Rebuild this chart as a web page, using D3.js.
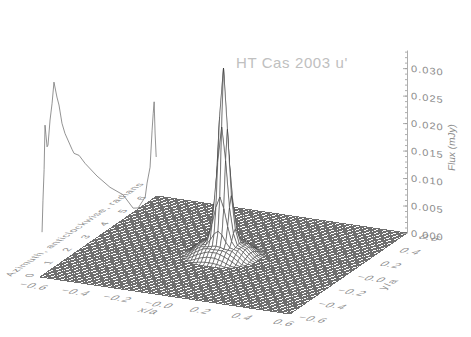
<!DOCTYPE html>
<html>
<head>
<meta charset="utf-8">
<script src="https://cdn.jsdelivr.net/npm/d3@7"></script>
<style>
  body { margin: 0; background: #fff; }
  text { font-family: "Liberation Sans", sans-serif; fill: #8c8c8c; }
</style>
</head>
<body>
<div id="container"></div>
<script>
const WIDTH = 471;
const HEIGHT = 337;

// azimuth profile on the back wall: radians, mJy
const azimuth = [0.11, 0.16, 0.22, 0.27, 0.32, 0.38, 0.43, 0.54, 0.65, 0.75, 0.91, 1.02, 1.18, 1.34, 1.72, 1.83, 2.1, 2.42, 3.06, 3.76, 4.46, 5.0, 5.27, 5.65, 5.75, 5.91, 6.02, 6.08, 6.13, 6.18, 6.24];
const profileFlux = [0.0079, 0.0136, 0.019, 0.027, 0.0251, 0.0228, 0.023, 0.0273, 0.0301, 0.0337, 0.0306, 0.0289, 0.0252, 0.023, 0.0192, 0.0182, 0.0172, 0.015, 0.0112, 0.0075, 0.0045, 0.0008, 0.0002, 0.0013, 0.0036, 0.0061, 0.0126, 0.0155, 0.0175, 0.0117, 0.0072];

const xTicks = [-0.6, -0.4, -0.2, 0, 0.2, 0.4, 0.6];
const yTicks = [-0.6, -0.4, -0.2, 0, 0.2, 0.4, 0.6];
const azimuthTicks = [0, 1, 2, 3, 4, 5, 6];
const fluxTicks = [0, 0.005, 0.01, 0.015, 0.02, 0.025, 0.03];
const fluxMinorTicks = d3.range(0, 0.0335, 0.001);

// surface heights around the centre, in 1e-4 mJy, front row first; the rest of the map is 0
const GRID_CELLS = 64;
const centreHeights = [
  [0,0,0,0,0,2,3,4,4,4,3,2,0,0,0,0,0],
  [0,0,0,1,4,7,9,11,11,11,9,7,4,1,0,0,0],
  [0,0,2,6,10,13,16,18,18,18,16,13,10,6,2,0,0],
  [0,1,6,11,15,19,21,21,21,21,21,19,15,11,6,1,0],
  [0,4,10,15,20,21,22,24,25,24,22,21,20,15,10,4,0],
  [2,7,13,19,21,23,32,44,50,44,32,23,21,19,13,7,2],
  [3,9,16,21,22,32,58,90,110,90,58,32,22,21,16,9,3],
  [4,11,18,21,24,44,90,170,235,175,90,44,24,21,18,11,4],
  [4,11,18,21,25,50,110,250,340,230,110,50,25,21,18,11,4],
  [4,11,18,21,24,44,95,185,240,170,90,44,24,21,18,11,4],
  [3,9,16,21,22,32,58,90,110,90,58,32,22,21,16,9,3],
  [2,7,13,19,21,23,32,44,50,44,32,23,21,19,13,7,2],
  [0,4,10,15,20,21,22,24,25,24,22,21,20,15,10,4,0],
  [0,1,6,11,15,19,21,21,21,21,21,19,15,11,6,1,0],
  [0,0,2,6,10,13,16,18,18,18,16,13,10,6,2,0,0],
  [0,0,0,1,4,7,9,11,11,11,9,7,4,1,0,0,0],
  [0,0,0,0,0,2,3,4,4,4,3,2,0,0,0,0,0]
];

const svg = d3.select('#container')
              .append('svg')
                .attr('width', WIDTH)
                .attr('height', HEIGHT)
                .style('display', 'block');

// the floor is a parallelogram on screen, flux just goes straight up
const ORIGIN = [40, 277];
const X_EDGE = [250, 37];
const Y_EDGE = [117, -81];

const x = d3.scaleLinear().domain([-0.6, 0.6]).range([0, 1]);
const y = d3.scaleLinear().domain([-0.6, 0.6]).range([0, 1]);
const az = d3.scaleLinear().domain([0, 2 * Math.PI]).range([0, 1]);
const flux = d3.scaleLinear().domain([0, 0.0333]).range([233, 50]);

function project(u, v, f) {
  return [
    ORIGIN[0] + u * X_EDGE[0] + v * Y_EDGE[0],
    ORIGIN[1] + u * X_EDGE[1] + v * Y_EDGE[1] - (flux(0) - flux(f))
  ];
}

// azimuth profile, behind the surface
const profile = azimuth.map((a, i) => project(0, az(a), profileFlux[i]));
svg.append('path')
   .attr('d', d3.line()(profile))
   .attr('fill', 'none')
   .attr('stroke', '#777')
   .attr('stroke-width', 0.8);

// surface
const half = (centreHeights.length - 1) / 2;
function height(i, j) {
  const row = centreHeights[j - GRID_CELLS / 2 + half];
  const value = row ? row[i - GRID_CELLS / 2 + half] : 0;
  return (value || 0) * 1e-4;
}

const cells = [];
for (let j = GRID_CELLS - 1; j >= 0; j--) {
  for (let i = 0; i < GRID_CELLS; i++) cells.push([i, j]);
}
const node = (i, j) => project(i / GRID_CELLS, j / GRID_CELLS, height(i, j));
const isFlat = ([i, j]) => !(height(i, j) || height(i + 1, j) || height(i + 1, j + 1) || height(i, j + 1));

svg.append('g')
   .selectAll('path')
   .data(cells)
   .enter()
   .append('path')
     .attr('d', ([i, j]) => d3.line().curve(d3.curveLinearClosed)(
        [node(i, j), node(i + 1, j), node(i + 1, j + 1), node(i, j + 1)]))
     .attr('fill', '#fff')
     .attr('shape-rendering', d => isFlat(d) ? 'crispEdges' : 'auto')
     .attr('stroke', d => isFlat(d) ? '#6e6e6e' : '#3a3a3a')
     .attr('stroke-width', d => isFlat(d) ? 1 : 0.55);

// text lying in the floor plane
const FLOOR_TEXT = 'matrix(1.05,0.16,-0.82,0.57,';
const WALL_TEXT = 'matrix(0.82,-0.57,0.99,0.15,';

function floorLabel(text, px, py, size) {
  svg.append('text')
     .attr('transform', `${FLOOR_TEXT}${px},${py})`)
     .attr('text-anchor', 'middle')
     .attr('font-size', size)
     .attr('letter-spacing', 1)
     .text(text);
}

xTicks.forEach(t => {
  const p = project(x(t), 0, 0);
  floorLabel(t === 0 ? '\u22120.0' : d3.format('.1f')(t).replace('-', '\u2212'), p[0] - 9, p[1] + 11, 11);
});
yTicks.forEach(t => {
  const p = project(1, y(t), 0);
  floorLabel(t === 0 ? '\u22120.0' : d3.format('.1f')(t).replace('-', '\u2212'), p[0] + 20, p[1] + 7, 11);
});
floorLabel('x/a', 146, 313, 11);

svg.append('text')
   .attr('transform', 'translate(392,285) matrix(0.82,-0.57,0.99,0.15,0,0)')
   .attr('text-anchor', 'middle')
   .attr('font-size', 11)
   .attr('letter-spacing', 1)
   .text('y/a');

azimuthTicks.forEach(t => {
  const p = project(0, az(t), 0);
  svg.append('text')
     .attr('transform', `${WALL_TEXT}${p[0] - 7},${p[1] - 1})`)
     .attr('text-anchor', 'middle')
     .attr('font-size', 10)
     .text(t);
});

svg.append('text')
   .attr('transform', `${WALL_TEXT}78,230)`)
   .attr('text-anchor', 'middle')
   .attr('font-size', 10)
   .attr('letter-spacing', 0.8)
   .text('Azimuth, anticlockwise, radians');

// flux axis at the right corner
const axisGroup = svg.append('g').attr('transform', 'translate(407,0)');

axisGroup.append('g')
   .call(d3.axisRight(flux).tickValues(fluxMinorTicks).tickSizeInner(-2).tickSizeOuter(0).tickFormat(''))
   .call(g => g.selectAll('line,path').attr('stroke', '#999').attr('stroke-width', 0.8));

axisGroup.append('g')
   .call(d3.axisRight(flux).tickValues(fluxTicks).tickSizeInner(-4).tickSizeOuter(0).tickPadding(5)
           .tickFormat(d3.format('.3f')))
   .call(g => g.select('.domain').remove())
   .call(g => g.selectAll('line').attr('stroke', '#999').attr('stroke-width', 0.8))
   .call(g => g.selectAll('text')
     .attr('x', null).attr('dy', null)
     .attr('text-anchor', 'start')
     .attr('font-family', null)
     .attr('font-size', 10.5)
     .attr('letter-spacing', 1)
     .attr('transform', 'matrix(1.05,0.13,0,0.9,4,3)'));

svg.append('text')
   .attr('transform', 'matrix(0,-1,0.99,0.14,455,148)')
   .attr('text-anchor', 'middle')
   .attr('font-size', 10)
   .text('Flux (mJy)');

// title
svg.append('text')
   .attr('x', 236)
   .attr('y', 68)
   .attr('font-size', 15)
   .attr('letter-spacing', 0.6)
   .style('fill', '#c0c0c0')
   .text("HT Cas 2003 u'");
</script>
</body>
</html>
